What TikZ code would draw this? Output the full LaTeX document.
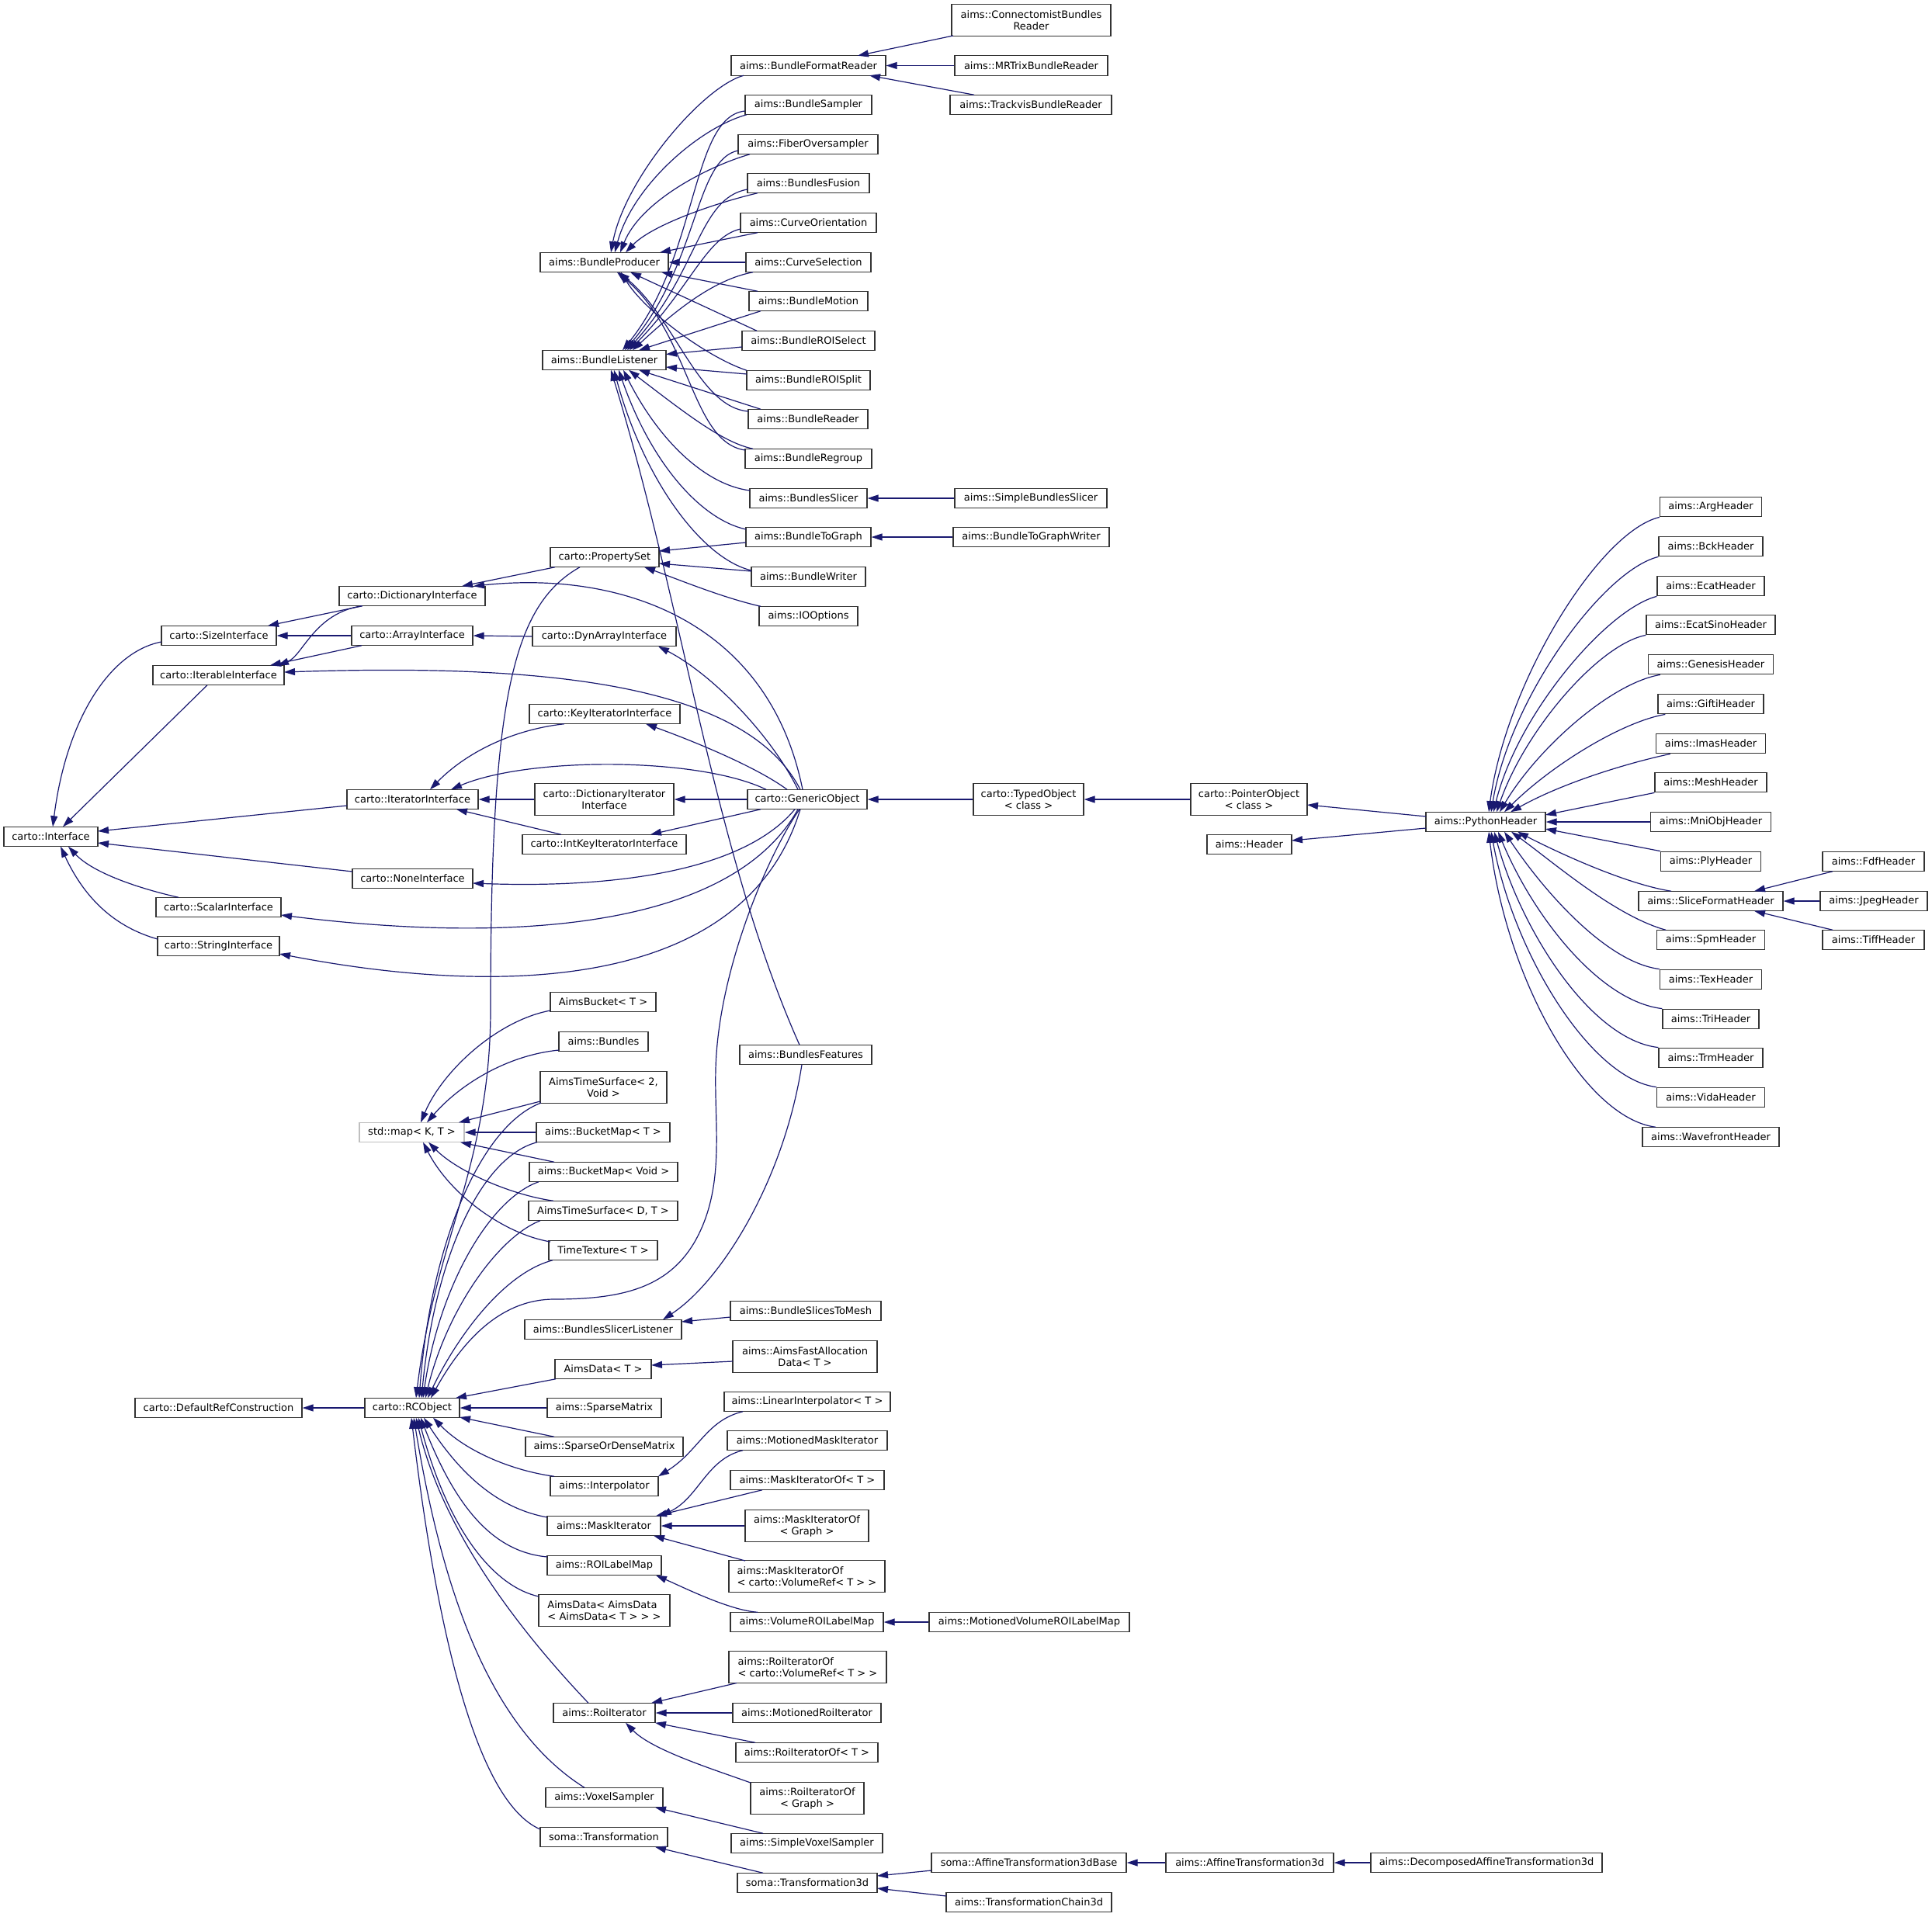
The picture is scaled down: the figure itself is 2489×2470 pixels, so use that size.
\documentclass[tikz,border=0pt]{standalone}
\usepackage{fontspec}
\setmainfont{DejaVu Sans}
\usetikzlibrary{arrows.meta,calc}
\definecolor{navy}{HTML}{191970}
\newcommand\mknode[6][]{\node[cbox,#1,minimum width=#5pt] (#2) at (#3,#4) {#6};}
\begin{document}
\begin{tikzpicture}[x=1pt,y=-1pt,
  cbox/.style={draw=black!80, line width=1.3pt, fill=white, minimum height=25.5pt, inner sep=0pt,
    font=\fontsize{13}{15}\selectfont, align=center},
  two/.style={minimum height=40.5pt},
  lft/.style={align=left},
  ext/.style={draw=black!25},
  inh/.style={draw=navy, line width=1.2pt, {Triangle[length=14pt,width=9pt]}-}]
\fill[white] (0,0) rectangle (2489,2470);
% ---------- nodes: top bundle cluster
\mknode[two]{conn}{1328.5}{26}{205}{aims::ConnectomistBundles\\Reader}
\mknode{bfr}{1041.5}{84.5}{199}{aims::BundleFormatReader}
\mknode{mrtrix}{1328.5}{84.5}{197}{aims::MRTrixBundleReader}
\mknode{trackvis}{1328}{135}{208}{aims::TrackvisBundleReader}
\mknode{bsampler}{1041.5}{135}{163}{aims::BundleSampler}
\mknode{fiberov}{1041}{186}{180}{aims::FiberOversampler}
\mknode{bfusion}{1041.5}{236}{157}{aims::BundlesFusion}
\mknode{curveor}{1041.5}{287}{175}{aims::CurveOrientation}
\mknode{curvesel}{1041.5}{338}{161}{aims::CurveSelection}
\mknode{bmotion}{1041.5}{388}{153}{aims::BundleMotion}
\mknode{roisel}{1041.5}{439}{171}{aims::BundleROISelect}
\mknode{roisplit}{1041.5}{490}{159}{aims::BundleROISplit}
\mknode{breader}{1041}{540}{154}{aims::BundleReader}
\mknode{bregroup}{1041.5}{591}{163}{aims::BundleRegroup}
\mknode{bslicer}{1041.5}{642}{151}{aims::BundlesSlicer}
\mknode{simpleslicer}{1328}{642}{196}{aims::SimpleBundlesSlicer}
\mknode{btograph}{1041.5}{692}{161}{aims::BundleToGraph}
\mknode{btographw}{1328.5}{692}{201}{aims::BundleToGraphWriter}
\mknode{bwriter}{1041.5}{743}{147}{aims::BundleWriter}
\mknode{iooptions}{1041.5}{794}{127}{aims::IOOptions}
\mknode{bproducer}{778.5}{338}{165}{aims::BundleProducer}
\mknode{blistener}{778.5}{464}{159}{aims::BundleListener}
\mknode{propset}{779}{718}{140}{carto::PropertySet}
\mknode{dynarray}{778.5}{820}{185}{carto::DynArrayInterface}
% ---------- interfaces
\mknode{dictif}{531}{768}{188}{carto::DictionaryInterface}
\mknode{sizeif}{282}{819}{148}{carto::SizeInterface}
\mknode{arrayif}{531}{819}{156}{carto::ArrayInterface}
\mknode{iterableif}{281.5}{870}{169}{carto::IterableInterface}
\mknode{keyiter}{779}{920}{194}{carto::KeyIteratorInterface}
\mknode{iterif}{531.5}{1030}{169}{carto::IteratorInterface}
\mknode[two]{dictiter}{778.5}{1030}{179}{carto::DictionaryIterator\\Interface}
\mknode{genobj}{1040}{1030}{154}{carto::GenericObject}
\mknode{intkey}{778.5}{1088}{211}{carto::IntKeyIteratorInterface}
\mknode{interface}{65.5}{1078}{121}{carto::Interface}
\mknode{noneif}{531.5}{1132}{155}{carto::NoneInterface}
\mknode{scalarif}{281.5}{1169}{161}{carto::ScalarInterface}
\mknode{stringif}{281.5}{1219}{157}{carto::StringInterface}
% ---------- right part
\mknode[two]{typedobj}{1325}{1030}{142}{carto::TypedObject\\< class >}
\mknode[two]{pointerobj}{1609}{1030}{150}{carto::PointerObject\\< class >}
\mknode{header}{1609.5}{1088}{109}{aims::Header}
\mknode{pyheader}{1914}{1059}{154}{aims::PythonHeader}
\mknode{argh}{2204}{653}{131}{aims::ArgHeader}
\mknode{bckh}{2204}{704}{134}{aims::BckHeader}
\mknode{ecath}{2204}{755}{138}{aims::EcatHeader}
\mknode{ecatsinoh}{2204}{805}{166}{aims::EcatSinoHeader}
\mknode{genesish}{2204}{856}{161}{aims::GenesisHeader}
\mknode{giftih}{2204}{907}{136}{aims::GiftiHeader}
\mknode{imash}{2204}{958}{141}{aims::ImasHeader}
\mknode{meshh}{2204}{1008}{144}{aims::MeshHeader}
\mknode{mniobjh}{2204}{1059}{155}{aims::MniObjHeader}
\mknode{plyh}{2204}{1110}{129}{aims::PlyHeader}
\mknode{sliceh}{2204}{1161}{186}{aims::SliceFormatHeader}
\mknode{spmh}{2204}{1211}{139}{aims::SpmHeader}
\mknode{texh}{2204}{1262}{131}{aims::TexHeader}
\mknode{trih}{2204}{1313}{124}{aims::TriHeader}
\mknode{trmh}{2204}{1363}{134}{aims::TrmHeader}
\mknode{vidah}{2204}{1414}{139}{aims::VidaHeader}
\mknode{wavefronth}{2204}{1465}{176}{aims::WavefrontHeader}
\mknode{fdfh}{2413.5}{1110}{131}{aims::FdfHeader}
\mknode{jpegh}{2414}{1161}{138}{aims::JpegHeader}
\mknode{tiffh}{2413.5}{1211}{131}{aims::TiffHeader}
% ---------- std::map cluster
\mknode{aimsbucket}{777}{1291}{136}{AimsBucket< T >}
\mknode{bundles}{777.5}{1342}{115}{aims::Bundles}
\mknode[two]{ats2}{777.5}{1401}{163}{AimsTimeSurface< 2,\\Void >}
\mknode[ext]{stdmap}{530.5}{1459}{135}{std::map< K, T >}
\mknode{bucketmapT}{777}{1459}{172}{aims::BucketMap< T >}
\mknode{bucketmapV}{777.5}{1510}{191}{aims::BucketMap< Void >}
\mknode{atsDT}{777}{1560}{192}{AimsTimeSurface< D, T >}
\mknode{timetex}{777}{1611}{140}{TimeTexture< T >}
\mknode{bfeatures}{1038}{1359}{170}{aims::BundlesFeatures}
\mknode{bslicerlist}{777}{1713}{202}{aims::BundlesSlicerListener}
\mknode{bslicestomesh}{1038}{1689}{194}{aims::BundleSlicesToMesh}
\mknode{aimsdataT}{777}{1764}{124}{AimsData< T >}
\mknode[two]{fastalloc}{1037}{1748}{186}{aims::AimsFastAllocation\\Data< T >}
% ---------- RCObject cluster
\mknode{defref}{281.5}{1814}{215}{carto::DefaultRefConstruction}
\mknode{rcobject}{531}{1814}{122}{carto::RCObject}
\mknode{sparsematrix}{778.5}{1814}{147}{aims::SparseMatrix}
\mknode{linearinterp}{1040}{1806}{214}{aims::LinearInterpolator< T >}
\mknode{sparseordense}{778.5}{1864}{203}{aims::SparseOrDenseMatrix}
\mknode{motionedmask}{1040}{1856}{206}{aims::MotionedMaskIterator}
\mknode{interpolator}{778.5}{1915}{139}{aims::Interpolator}
\mknode{maskiterofT}{1040}{1907}{198}{aims::MaskIteratorOf< T >}
\mknode{maskiterator}{778}{1966}{146}{aims::MaskIterator}
\mknode[two]{maskiterofGraph}{1039.5}{1966}{159}{aims::MaskIteratorOf\\< Graph >}
\mknode{roilabelmap}{778.5}{2017}{147}{aims::ROILabelMap}
\mknode[two,lft]{maskiterofVol}{1039.5}{2031}{201}{aims::MaskIteratorOf\\< carto::VolumeRef< T > >}
\mknode[two,lft]{aimsdata3}{778.5}{2075}{169}{AimsData< AimsData\\< AimsData< T > > >}
\mknode{volroilabelmap}{1039.5}{2090}{197}{aims::VolumeROILabelMap}
\mknode{motvolroi}{1326}{2090}{258}{aims::MotionedVolumeROILabelMap}
\mknode[two,lft]{roiiterofVol}{1040.5}{2148}{203}{aims::RoiIteratorOf\\< carto::VolumeRef< T > >}
\mknode{roiiterator}{778.5}{2207}{131}{aims::RoiIterator}
\mknode{motionedroi}{1039.5}{2207}{191}{aims::MotionedRoiIterator}
\mknode{roiiterofT}{1039.5}{2258}{183}{aims::RoiIteratorOf< T >}
\mknode[two]{roiiterofGraph}{1040}{2317}{146}{aims::RoiIteratorOf\\< Graph >}
\mknode{voxelsampler}{778.5}{2316}{151}{aims::VoxelSampler}
\mknode{somatrans}{778}{2367}{164}{soma::Transformation}
\mknode{simplevoxel}{1039.5}{2375}{195}{aims::SimpleVoxelSampler}
\mknode{trans3d}{1040}{2426}{180}{soma::Transformation3d}
\mknode{affine3dbase}{1325.5}{2400}{251}{soma::AffineTransformation3dBase}
\mknode{affine3d}{1610}{2400}{216}{aims::AffineTransformation3d}
\mknode{decomposed}{1915}{2400}{298}{aims::DecomposedAffineTransformation3d}
\mknode{transchain}{1325.5}{2451}{213}{aims::TransformationChain3d}
% ---------- edges: top
\draw[inh] ($(bfr)+(63.5,-12.75)$) -- ($(conn)+(-100.5,20)$);
\draw[inh] (bfr.east) -- (mrtrix.west);
\draw[inh] ($(bfr)+(78.5,12.75)$) -- ($(trackvis)+(-73,-12.75)$);
\draw[inh] ($(bproducer)+(8.5,-12.75)$) .. controls (805,230) and (905,112) .. ($(bfr)+(-83.5,12.75)$);
\draw[inh] ($(bproducer)+(13.5,-12.75)$) .. controls (815,240) and (900,165) .. ($(bsampler)+(-79.5,12.75)$);
\draw[inh] ($(bproducer)+(20.5,-12.75)$) .. controls (825,260) and (910,215) .. ($(fiberov)+(-75,12.75)$);
\draw[inh] ($(bproducer)+(27.5,-12.75)$) .. controls (840,290) and (920,262) .. ($(bfusion)+(-65.5,12.75)$);
\draw[inh] ($(bproducer)+(71.5,-12.75)$) -- ($(curveor)+(-65.5,12.75)$);
\draw[inh] (bproducer.east) -- (curvesel.west);
\draw[inh] ($(bproducer)+(73.5,12.75)$) -- ($(bmotion)+(-65.5,-12.75)$);
\draw[inh] ($(bproducer)+(33.5,12.75)$) -- ($(roisel)+(-66.5,-12.75)$);
\draw[inh] ($(bproducer)+(21.5,12.75)$) .. controls (830,400) and (910,460) .. ($(roisplit)+(-79.5,-12.75)$);
\draw[inh] ($(bproducer)+(18.5,12.75)$) .. controls (870,410) and (900,525) .. ($(breader)+(-77,-10)$);
\draw[inh] ($(bproducer)+(16.5,12.75)$) .. controls (890,430) and (890,570) .. ($(bregroup)+(-81.5,-11)$);
\draw[inh] ($(blistener)+(23.5,-12.75)$) .. controls (900,330) and (890,150) .. ($(bsampler)+(-81.5,8)$);
\draw[inh] ($(blistener)+(26.5,-12.75)$) .. controls (900,340) and (895,205) .. ($(fiberov)+(-90,8)$);
\draw[inh] ($(blistener)+(29.5,-12.75)$) .. controls (900,350) and (900,255) .. ($(bfusion)+(-78.5,8)$);
\draw[inh] ($(blistener)+(32.5,-12.75)$) .. controls (890,370) and (910,305) .. ($(curveor)+(-87.5,8)$);
\draw[inh] ($(blistener)+(36.5,-12.75)$) .. controls (870,400) and (920,360) .. ($(curvesel)+(-71.5,12.75)$);
\draw[inh] ($(blistener)+(44.5,-12.75)$) -- ($(bmotion)+(-61.5,12.75)$);
\draw[inh] ($(blistener)+(79.5,-7.5)$) -- ($(roisel)+(-85.5,8)$);
\draw[inh] ($(blistener)+(79.5,9)$) -- ($(roisplit)+(-79.5,-8)$);
\draw[inh] ($(blistener)+(44.5,12.75)$) -- ($(breader)+(-61,-12.75)$);
\draw[inh] ($(blistener)+(31.5,12.75)$) .. controls (880,530) and (930,570) .. ($(bregroup)+(-71.5,-12.75)$);
\draw[inh] ($(blistener)+(24.5,12.75)$) .. controls (850,570) and (910,625) .. ($(bslicer)+(-75.5,-10)$);
\draw[inh] ($(blistener)+(18.5,12.75)$) .. controls (840,600) and (905,670) .. ($(btograph)+(-80.5,-10)$);
\draw[inh] ($(blistener)+(12.5,12.75)$) .. controls (830,620) and (905,720) .. ($(bwriter)+(-73.5,-8)$);
\draw[inh] ($(blistener)+(8.5,12.75)$) .. controls (880,780) and (920,1100) .. ($(bfeatures)+(-8,-12.75)$);
\draw[inh] (bslicer.east) -- (simpleslicer.west);
\draw[inh] (btograph.east) -- (btographw.west);
\draw[inh] ($(propset)+(70,-8)$) -- ($(btograph)+(-80.5,7)$);
\draw[inh] ($(propset)+(70,8)$) -- ($(bwriter)+(-73.5,-7)$);
\draw[inh] ($(propset)+(51,12.75)$) .. controls (870,745) and (930,770) .. ($(iooptions)+(-61.5,-12.75)$);
% ---------- edges: interfaces
\draw[inh] ($(dictif)+(64,-12.75)$) -- ($(propset)+(-64,12.75)$);
\draw[inh] ($(rcobject)+(5,-12.75)$) .. controls (560,1600) and (632,1500) .. (632,1300) .. controls (632,900) and (660,780) .. ($(propset)+(-32,12.75)$);
\draw[inh] (arrayif.east) -- (dynarray.west);
\draw[inh] ($(dynarray)+(69.5,12.75)$) .. controls (920,870) and (995,950) .. ($(genobj)+(-12,-12.75)$);
\draw[inh] ($(dictif)+(79,-12.75)$) .. controls (800,735) and (990,800) .. ($(genobj)+(-6,-12.75)$);
\draw[inh] ($(iterableif)+(84.5,-4)$) .. controls (700,855) and (960,880) .. ($(genobj)+(-9,-12.75)$);
\draw[inh] ($(keyiter)+(53,12.75)$) .. controls (880,950) and (970,985) .. ($(genobj)+(-26,-12.75)$);
\draw[inh] ($(iterif)+(49.5,-12.75)$) .. controls (680,975) and (900,975) .. ($(genobj)+(-53,-12.75)$);
\draw[inh] (iterif.east) -- (dictiter.west);
\draw[inh] (dictiter.east) -- (genobj.west);
\draw[inh] ($(intkey)+(59.5,-12.75)$) -- ($(genobj)+(-60,12.75)$);
\draw[inh] ($(noneif)+(77.5,6)$) .. controls (800,1145) and (960,1120) .. ($(genobj)+(-16,12.75)$);
\draw[inh] ($(scalarif)+(80.5,10)$) .. controls (650,1215) and (940,1200) .. ($(genobj)+(-12,12.75)$);
\draw[inh] ($(stringif)+(78.5,10)$) .. controls (650,1285) and (960,1275) .. ($(genobj)+(-9,12.75)$);
\draw[inh] ($(rcobject)+(24,-12.75)$) .. controls (600,1720) and (650,1674) .. (714,1674) .. controls (800,1674) and (860,1660) .. (895,1600) .. controls (935,1530) and (920,1450) .. (922,1378) .. controls (925,1250) and (990,1100) .. ($(genobj)+(-10,12.75)$);
\draw[inh] ($(iterif)+(22.5,-12.75)$) .. controls (600,970) and (660,940) .. ($(keyiter)+(-52,12.75)$);
\draw[inh] ($(iterif)+(56.5,12.75)$) -- ($(intkey)+(-55.5,-12.75)$);
\draw[inh] ($(sizeif)+(63,-12.75)$) -- ($(dictif)+(-64,12.75)$);
\draw[inh] ($(iterableif)+(76.5,-12.75)$) .. controls (390,845) and (405,790) .. ($(dictif)+(-65,12.75)$);
\draw[inh] (sizeif.east) -- (arrayif.west);
\draw[inh] ($(iterableif)+(66.5,-12.75)$) -- ($(arrayif)+(-65,12.75)$);
\draw[inh] ($(interface)+(2.5,-12.75)$) .. controls (85,930) and (140,840) .. ($(sizeif)+(-74,8)$);
\draw[inh] ($(interface)+(15.5,-12.75)$) -- ($(iterableif)+(-14.5,12.75)$);
\draw[inh] ($(interface)+(60.5,-7)$) -- ($(iterif)+(-84.5,8)$);
\draw[inh] ($(interface)+(60.5,8)$) -- ($(noneif)+(-77.5,-9)$);
\draw[inh] ($(interface)+(22.5,12.75)$) .. controls (120,1125) and (180,1145) .. ($(scalarif)+(-51.5,-12.75)$);
\draw[inh] ($(interface)+(12.5,12.75)$) .. controls (110,1160) and (150,1195) .. ($(stringif)+(-78.5,-9)$);
% ---------- edges: right part
\draw[inh] (genobj.east) -- (typedobj.west);
\draw[inh] (typedobj.east) -- (pointerobj.west);
\draw[inh] ($(pointerobj)+(75,7)$) -- ($(pyheader)+(-77,-7)$);
\draw[inh] ($(header)+(54.5,-5)$) -- ($(pyheader)+(-77,8)$);
\draw[inh] ($(pyheader)+(4,-12.75)$) .. controls (1940,880) and (2060,685) .. (argh.south west);
\draw[inh] ($(pyheader)+(7,-12.75)$) .. controls (1945,900) and (2065,735) .. (bckh.south west);
\draw[inh] ($(pyheader)+(10,-12.75)$) .. controls (1955,920) and (2070,785) .. (ecath.south west);
\draw[inh] ($(pyheader)+(14,-12.75)$) .. controls (1965,940) and (2060,830) .. (ecatsinoh.south west);
\draw[inh] ($(pyheader)+(18,-12.75)$) .. controls (1980,965) and (2075,880) .. ($(genesish.south west)+(16,0)$);
\draw[inh] ($(pyheader)+(24,-12.75)$) .. controls (2000,985) and (2090,930) .. ($(giftih.south west)+(10,0)$);
\draw[inh] ($(pyheader)+(32,-12.75)$) .. controls (2020,1005) and (2110,980) .. ($(imash.south west)+(19,0)$);
\draw[inh] ($(pyheader)+(77,-9)$) -- (meshh.south west);
\draw[inh] (pyheader.east) -- (mniobjh.west);
\draw[inh] ($(pyheader)+(77,9)$) -- (plyh.north west);
\draw[inh] ($(pyheader)+(41,12.75)$) .. controls (2020,1105) and (2100,1140) .. ($(sliceh)+(-51,-12.75)$);
\draw[inh] ($(pyheader)+(33,12.75)$) .. controls (2000,1110) and (2080,1180) .. ($(spmh)+(-58,-12.75)$);
\draw[inh] ($(pyheader)+(24,12.75)$) .. controls (1990,1150) and (2070,1240) .. (texh.north west);
\draw[inh] ($(pyheader)+(16,12.75)$) .. controls (1975,1180) and (2060,1290) .. (trih.north west);
\draw[inh] ($(pyheader)+(11,12.75)$) .. controls (1960,1200) and (2050,1340) .. (trmh.north west);
\draw[inh] ($(pyheader)+(7,12.75)$) .. controls (1950,1230) and (2050,1390) .. (vidah.north west);
\draw[inh] ($(pyheader)+(4,12.75)$) .. controls (1940,1260) and (2040,1440) .. ($(wavefronth)+(-71,-12.75)$);
\draw[inh] ($(sliceh)+(56,-12.75)$) -- ($(fdfh)+(-52.5,12.75)$);
\draw[inh] (sliceh.east) -- (jpegh.west);
\draw[inh] ($(sliceh)+(56,12.75)$) -- ($(tiffh)+(-52.5,-12.75)$);
% ---------- edges: std::map
\draw[inh] ($(stdmap)+(11.5,-12.75)$) .. controls (570,1380) and (640,1315) .. ($(aimsbucket)+(-68,11)$);
\draw[inh] ($(stdmap)+(19.5,-12.75)$) .. controls (590,1400) and (650,1360) .. ($(bundles)+(-57.5,11)$);
\draw[inh] ($(stdmap)+(60.5,-12.75)$) -- ($(ats2)+(-81.5,18)$);
\draw[inh] (stdmap.east) -- (bucketmapT.west);
\draw[inh] ($(stdmap)+(62.5,12.75)$) -- ($(bucketmapV)+(-63.5,-12.75)$);
\draw[inh] ($(stdmap)+(21.5,12.75)$) .. controls (590,1510) and (660,1540) .. ($(atsDT)+(-64,-12.75)$);
\draw[inh] ($(stdmap)+(14.5,12.75)$) .. controls (580,1540) and (650,1590) .. ($(timetex)+(-68,-11)$);
% ---------- edges: RCObject
\draw[inh] ($(rcobject)+(9,-12.75)$) .. controls (555,1600) and (620,1450) .. ($(ats2)+(-80.5,20)$);
\draw[inh] ($(rcobject)+(12,-12.75)$) .. controls (560,1620) and (620,1490) .. ($(bucketmapT)+(-85,12.75)$);
\draw[inh] ($(rcobject)+(14,-12.75)$) .. controls (565,1660) and (630,1545) .. ($(bucketmapV)+(-83.5,12.75)$);
\draw[inh] ($(rcobject)+(17,-12.75)$) .. controls (575,1690) and (640,1595) .. ($(atsDT)+(-81,12.75)$);
\draw[inh] ($(rcobject)+(20,-12.75)$) .. controls (590,1720) and (650,1640) .. ($(timetex)+(-65,12.75)$);
\draw[inh] ($(rcobject)+(56,-12.75)$) -- ($(aimsdataT)+(-61,12.75)$);
\draw[inh] (rcobject.east) -- (sparsematrix.west);
\draw[inh] ($(rcobject)+(61,12)$) -- ($(sparseordense)+(-64.5,-12.75)$);
\draw[inh] ($(rcobject)+(27,12.75)$) .. controls (600,1870) and (660,1895) .. ($(interpolator)+(-64.5,-12.75)$);
\draw[inh] ($(rcobject)+(15,12.75)$) .. controls (600,1910) and (650,1945) .. ($(maskiterator)+(-73,-11)$);
\draw[inh] ($(rcobject)+(11,12.75)$) .. controls (590,1950) and (640,2000) .. ($(roilabelmap)+(-73.5,-11)$);
\draw[inh] ($(rcobject)+(8,12.75)$) .. controls (580,1980) and (640,2045) .. ($(aimsdata3)+(-84.5,-18)$);
\draw[inh] ($(rcobject)+(5,12.75)$) .. controls (565,1950) and (640,2070) .. ($(roiiterator)+(-20.5,-12.75)$);
\draw[inh] ($(rcobject)+(2,12.75)$) .. controls (565,2020) and (620,2220) .. ($(voxelsampler)+(-25.5,-12.75)$);
\draw[inh] ($(rcobject)+(-1,12.75)$) .. controls (560,2080) and (610,2320) .. ($(somatrans)+(-82,-10)$);
\draw[inh] (defref.east) -- (rcobject.west);
% ---------- edges: lower right
\draw[inh] ($(interpolator)+(69.5,-12.75)$) .. controls (900,1870) and (910,1830) .. ($(linearinterp)+(-83,12.75)$);
\draw[inh] ($(maskiterator)+(73,-12.75)$) .. controls (900,1930) and (910,1880) .. ($(motionedmask)+(-83,12.75)$);
\draw[inh] ($(maskiterator)+(67,-12.75)$) -- ($(maskiterofT)+(-58,12.75)$);
\draw[inh] (maskiterator.east) -- (maskiterofGraph.west);
\draw[inh] ($(maskiterator)+(64,12.75)$) -- ($(maskiterofVol)+(-79.5,-20)$);
\draw[inh] ($(roilabelmap)+(66.5,12.75)$) .. controls (880,2045) and (940,2075) .. ($(volroilabelmap)+(-63.5,-12.75)$);
\draw[inh] (volroilabelmap.east) -- (motvolroi.west);
\draw[inh] ($(roiiterator)+(60.5,-12.75)$) -- ($(roiiterofVol)+(-91.5,20.5)$);
\draw[inh] (roiiterator.east) -- (motionedroi.west);
\draw[inh] ($(roiiterator)+(65.5,12.75)$) -- ($(roiiterofT)+(-66.5,-12.75)$);
\draw[inh] ($(roiiterator)+(27.5,12.75)$) .. controls (840,2255) and (920,2280) .. ($(roiiterofGraph)+(-73,-20)$);
\draw[inh] ($(voxelsampler)+(65.5,12.75)$) -- ($(simplevoxel)+(-56.5,-12.75)$);
\draw[inh] ($(somatrans)+(66,12.75)$) -- ($(trans3d)+(-57,-12.75)$);
\draw[inh] ($(trans3d)+(90,-9)$) -- ($(affine3dbase)+(-125.5,10)$);
\draw[inh] ($(trans3d)+(90,7)$) -- ($(transchain)+(-106.5,-8)$);
\draw[inh] (affine3dbase.east) -- (affine3d.west);
\draw[inh] (affine3d.east) -- (decomposed.west);
\draw[inh] ($(bslicerlist)+(101,-10)$) -- ($(bslicestomesh)+(-97,8)$);
\draw[inh] ($(bslicerlist)+(77,-12.75)$) .. controls (930,1650) and (1010,1520) .. ($(bfeatures)+(-5,12.75)$);
\draw[inh] ($(aimsdataT)+(62,-5)$) -- ($(fastalloc)+(-93,6)$);
\end{tikzpicture}
\end{document}
